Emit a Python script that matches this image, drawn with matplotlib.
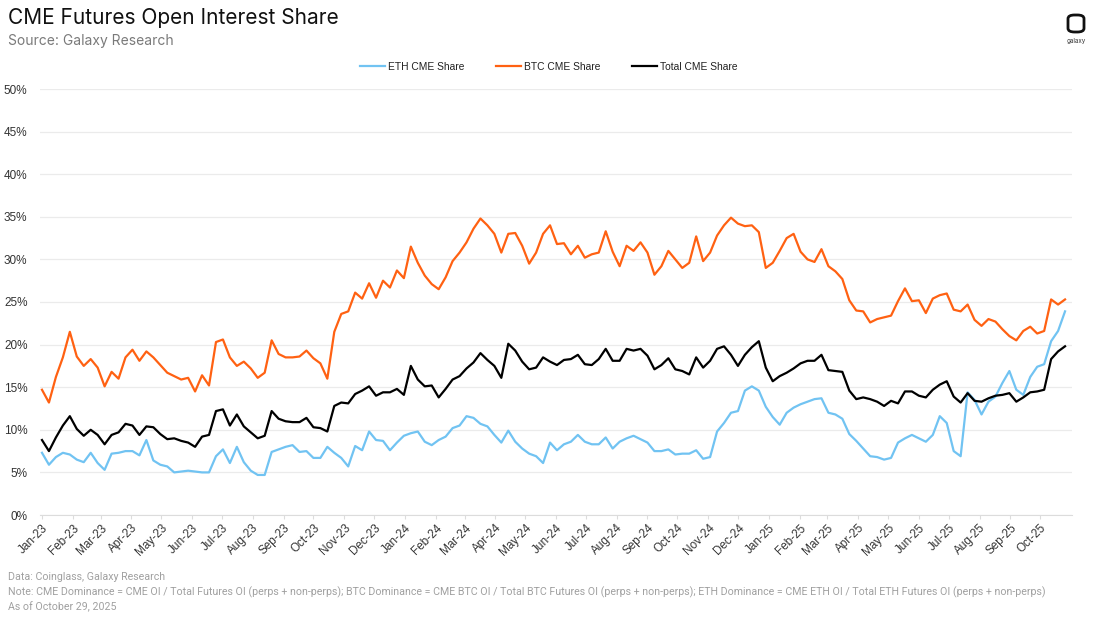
import matplotlib
matplotlib.use("Agg")
import matplotlib.pyplot as plt
from matplotlib.patches import FancyBboxPatch
import pandas as pd

# Weekly readings (share of open interest, %), starting 2023-01-01
eth_share = [
    7.3, 5.9, 6.8, 7.3, 7.1, 6.5, 6.2, 7.3, 6.1, 5.3, 7.2, 7.3, 7.5, 7.5, 7.0, 8.8, 6.4, 5.9, 5.7, 5.0,
    5.1, 5.2, 5.1, 5.0, 5.0, 6.9, 7.7, 6.1, 8.0, 6.2, 5.2, 4.7, 4.7, 7.4, 7.7, 8.0, 8.2,
    7.4, 7.5, 6.7, 6.7, 8.0, 7.3, 6.7, 5.7, 8.1, 7.6, 9.8, 8.8, 8.7, 7.6, 8.5, 9.3, 9.6, 9.8, 8.6, 8.2,
    8.8, 9.2, 10.2, 10.5, 11.6, 11.4, 10.7, 10.4, 9.4, 8.5, 9.9, 8.6, 7.8, 7.2, 6.9, 6.1, 8.5,
    7.6, 8.3, 8.6, 9.4, 8.6, 8.3, 8.3, 9.1, 7.8, 8.6, 9.0, 9.3, 8.9, 8.5, 7.5, 7.5, 7.7, 7.1, 7.2, 7.2,
    7.6, 6.6, 6.8, 9.8, 10.8, 12.0, 12.2, 14.6, 15.1, 14.6, 12.7, 11.5, 10.6, 12.0, 12.6, 13.0, 13.3,
    13.6, 13.7, 12.0, 11.8, 11.3, 9.5, 8.7, 7.8, 6.9, 6.8, 6.5, 6.7, 8.5, 9.0, 9.4, 9.0, 8.6, 9.4, 11.6,
    10.8, 7.5, 6.9, 14.4, 13.5, 11.8, 13.3, 13.9, 15.5, 16.9, 14.7, 14.1, 16.2, 17.4, 17.7, 20.4, 21.6, 23.9,
]
btc_share = [
    14.7, 13.2, 16.2, 18.5, 21.5, 18.6, 17.5, 18.3, 17.3, 15.1, 16.8, 16.0, 18.5, 19.4, 18.1, 19.2, 18.5,
    17.6, 16.7, 16.3, 15.9, 16.1, 14.5, 16.4, 15.2, 20.3, 20.6, 18.5, 17.5, 18.0, 17.2, 16.1, 16.7, 20.5,
    18.9, 18.5, 18.5,
    18.6, 19.3, 18.4, 17.8, 16.0, 21.5, 23.6, 23.9, 26.1, 25.4, 27.2, 25.5, 27.5, 26.7, 28.7, 27.8, 31.5,
    29.6, 28.1, 27.1, 26.5, 27.9, 29.8, 30.8, 32.0, 33.6, 34.8, 34.0, 33.0, 30.8, 33.0, 33.1, 31.6, 29.5,
    30.8, 33.0, 34.0,
    31.8, 31.9, 30.6, 31.6, 30.2, 30.6, 30.8, 33.3, 30.9, 29.2, 31.6, 31.0, 32.0, 30.8, 28.2, 29.2, 31.0,
    30.0, 29.0, 29.6, 32.7, 29.8, 30.8, 32.8, 34.0, 34.9, 34.2, 33.9, 34.0, 33.2, 29.0, 29.6, 31.0, 32.5,
    33.0, 30.9, 30.0,
    29.7, 31.2, 29.2, 28.6, 27.7, 25.2, 24.0, 23.9, 22.6, 23.0, 23.2, 23.4, 25.1, 26.6, 25.1, 25.2, 23.7,
    25.4, 25.8, 26.0, 24.1, 23.9, 24.7, 22.9, 22.2, 23.0, 22.7, 21.8, 21.0, 20.5, 21.6, 22.1, 21.3, 21.6,
    25.3, 24.7, 25.3,
]
total_share = [
    8.8, 7.5, 9.1, 10.5, 11.6, 10.1, 9.3, 10.0, 9.4, 8.3, 9.4, 9.7, 10.7, 10.5, 9.4, 10.4, 10.3, 9.5, 8.9,
    9.0, 8.7, 8.5, 8.0, 9.2, 9.4, 12.2, 12.4, 10.5, 11.8, 10.4, 9.7, 9.0, 9.3, 12.2, 11.3, 11.0, 10.9,
    10.9, 11.4, 10.3, 10.2, 9.8, 12.8, 13.2, 13.1, 14.2, 14.6, 15.1, 14.0, 14.4, 14.4, 14.8, 14.1, 17.5,
    15.9, 15.1, 15.2, 13.8, 14.8, 15.9, 16.3, 17.2, 17.9, 19.0, 18.2, 17.5, 16.1, 20.1, 19.3, 18.0, 17.1,
    17.3, 18.5, 18.0,
    17.6, 18.2, 18.3, 18.8, 17.7, 17.6, 18.3, 19.5, 18.1, 18.1, 19.5, 19.3, 19.5, 18.7, 17.1, 17.6, 18.4,
    17.1, 16.9, 16.5, 18.5, 17.3, 18.1, 19.5, 19.8, 18.8, 17.5, 18.8, 19.7, 20.4, 17.3, 15.7, 16.3, 16.7,
    17.2, 17.8, 18.1,
    18.1, 18.8, 17.0, 16.9, 16.8, 14.6, 13.6, 13.8, 13.6, 13.3, 12.8, 13.4, 13.1, 14.5, 14.5, 14.0, 13.8,
    14.7, 15.3, 15.7, 13.9, 13.2, 14.3, 13.4, 13.3, 13.7, 14.0, 14.1, 14.3, 13.3, 13.8, 14.4, 14.5, 14.7,
    18.3, 19.2, 19.8,
]
series_names = ["ETH CME Share", "BTC CME Share", "Total CME Share"]
series_colors = ["#71C3F2", "#FF6112", "#000000"]

dates = pd.date_range("2023-01-01", periods=len(eth_share), freq="7D")
month_ticks = pd.date_range("2023-01-01", "2025-10-01", freq="MS")

W, H = 1100, 619
fig = plt.figure(figsize=(W / 100, H / 100), dpi=100)
fig.patch.set_facecolor("white")

ax = fig.add_axes([40 / W, 1 - 515 / H, (1072 - 40) / W, (515 - 89) / H])
for vals, name, col in zip([eth_share, btc_share, total_share], series_names, series_colors):
    ax.plot(dates, vals, color=col, lw=1.6, label=name, solid_joinstyle="round")

ax.set_ylim(0, 50)
ax.set_yticks(range(0, 51, 5))
ax.set_yticklabels([f"{v}%" for v in range(0, 51, 5)], family="Liberation Sans", fontsize=8.5, color="#333333")
ax.set_xlim(pd.Timestamp("2022-12-30"), pd.Timestamp("2025-11-02"))
ax.set_xticks(month_ticks)
ax.set_xticklabels([d.strftime("%b-%y") for d in month_ticks], rotation=45, ha="right",
                   rotation_mode="anchor", family="Liberation Sans", fontsize=8.5, color="#333333")
ax.tick_params(axis="x", length=3, color="#dcdcdc", pad=2)
ax.tick_params(axis="y", length=0, pad=9)
ax.grid(axis="y", color="#ebebeb", lw=0.9)
ax.set_axisbelow(True)
for s in ["top", "right", "left"]:
    ax.spines[s].set_visible(False)
ax.spines["bottom"].set_color("#dcdcdc")

leg = fig.legend(loc="center", bbox_to_anchor=(549 / W, 1 - 67 / H), ncol=3, frameon=False,
                 prop={"family": "Liberation Sans", "size": 7.4}, handlelength=2.4, handletextpad=0.3,
                 columnspacing=3.1)
for t in leg.get_texts():
    t.set_color("#222222")

fig.text(8 / W, 1 - 18 / H, "CME Futures Open Interest Share", family="Inter", fontsize=15,
         color="#111111", va="center", ha="left")
fig.text(8 / W, 1 - 41 / H, "Source: Galaxy Research", family="Inter", fontsize=10,
         color="#7a7a7a", va="center", ha="left")

foot_col = "#a0a0a0"
foot_font = dict(family="Roboto", fontsize=7.7, color=foot_col, va="center", ha="left")
fig.text(8 / W, 1 - 577 / H, "Data: Coinglass, Galaxy Research", **foot_font)
fig.text(8 / W, 1 - 592 / H,
         "Note: CME Dominance = CME OI / Total Futures OI (perps + non-perps); BTC Dominance = CME BTC OI / "
         "Total BTC Futures OI (perps + non-perps); ETH Dominance = CME ETH OI / Total ETH Futures OI (perps + non-perps)",
         **foot_font)
fig.text(8 / W, 1 - 607 / H, "As of October 29, 2025", **foot_font)

# logo
logo = FancyBboxPatch((1068 / W, 1 - 32 / H), 16 / W, 17 / H, boxstyle="round,pad=0,rounding_size=0.006",
                      transform=fig.transFigure, fill=False, ec="#111111", lw=2)
fig.patches.append(logo)
fig.text(1076 / W, 1 - 41 / H, "galaxy", family="Inter", fontsize=4.5, color="#333333",
         ha="center", va="center")

fig.savefig("out.png", dpi=100)
